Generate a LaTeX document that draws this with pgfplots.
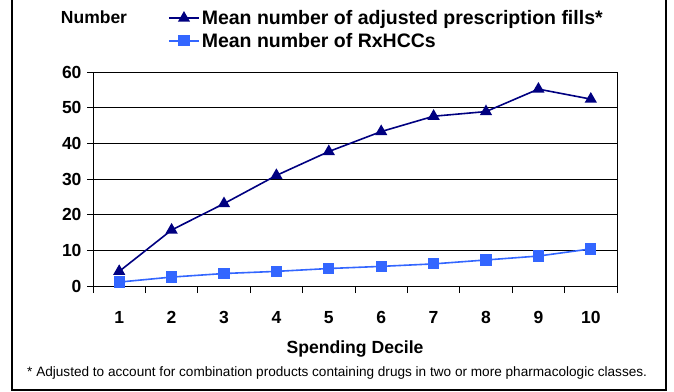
\documentclass[border=0pt]{standalone}
\usepackage{pgfplots}
\pgfplotsset{compat=1.18}
\usepackage{fontspec}
\setmainfont{Liberation Sans}
\definecolor{navyline}{RGB}{0,0,128}
\definecolor{blueline}{RGB}{51,102,255}
\begin{document}
\begin{tikzpicture}
\begin{axis}[
  at={(93bp,106bp)}, anchor=south west,
  scale only axis, width=524bp, height=214bp,
  xmin=0.5, xmax=10.5, ymin=0, ymax=60,
  xtick={1,...,10},
  minor xtick={0.5,1.5,...,10.5},
  ytick={0,10,...,60},
  tick pos=left,
  major x tick style={draw=none},
  minor tick length=7bp,
  major tick length=6bp,
  tick align=outside,
  x tick style={black, line width=0.8bp},
  y tick style={black, line width=0.8bp},
  axis line style={black, line width=0.8bp},
  ymajorgrids, grid style={black, line width=0.8bp},
  xmajorgrids=false,
  /pgf/number format/assume math mode=true,
  ticklabel style={font=\fontsize{17.5bp}{20bp}\selectfont\bfseries},
  xticklabel style={yshift=-16bp},
  yticklabel style={xshift=-2bp},
  xlabel={Spending Decile},
  xlabel style={font=\fontsize{17.6bp}{20bp}\selectfont\bfseries, yshift=-10bp},
  legend style={draw=none, fill=none, inner sep=0pt,
    at={(axis description cs:0.1431,1.1986)}, anchor=west,
    font=\fontsize{19.5bp}{22bp}\selectfont\bfseries,
    row sep=3bp,
    nodes={inner sep=2bp}},
  legend cell align=left,
  legend image code/.code={%
    \draw[mark repeat=2,mark phase=2,#1] plot coordinates {(0bp,0bp) (15bp,0bp) (30bp,0bp)};},
]
\addplot[navyline, line width=1.6bp, mark=triangle*, mark size=5.5bp, mark options={solid}]
  coordinates {(1,4.1) (2,15.7) (3,23.1) (4,31.0) (5,37.7) (6,43.3) (7,47.6) (8,48.9) (9,55.2) (10,52.4)};
\addlegendentry{Mean number of adjusted prescription fills*}
\addplot[blueline, line width=1.6bp, mark=square*, mark size=4.8bp, mark options={solid}]
  coordinates {(1,1.1) (2,2.5) (3,3.5) (4,4.1) (5,4.9) (6,5.5) (7,6.2) (8,7.3) (9,8.4) (10,10.4)};
\addlegendentry{Mean number of RxHCCs}
\end{axis}
\node[font=\fontsize{17.5bp}{20bp}\selectfont\bfseries, inner sep=0pt] at (94bp,375bp) {Number};
\node[font=\fontsize{13.6bp}{16bp}\selectfont, inner sep=0pt, anchor=west] at (27bp,19bp)
  {* Adjusted to account for combination products containing drugs in two or more pharmacologic classes.};
\draw[black, line width=2bp] (12bp,400bp) -- (12bp,2bp) -- (666bp,2bp) -- (666bp,400bp);
\pgfresetboundingbox
\path[use as bounding box] (0bp,0bp) rectangle (674bp,392bp);
\end{tikzpicture}
\end{document}
